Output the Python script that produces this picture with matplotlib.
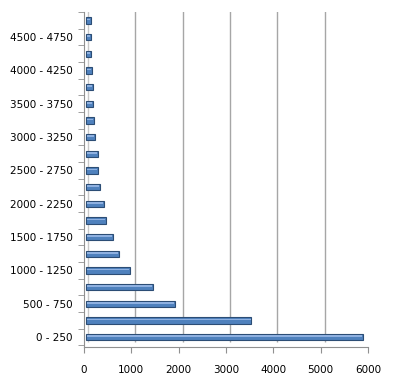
"""Horizontal bar chart of counts per 250-wide bin, Excel-2007 3D style."""
import matplotlib
matplotlib.use("Agg")
import matplotlib.pyplot as plt
import matplotlib.transforms as mtransforms
import numpy as np

BINS = [f"{lo} - {lo + 250}" for lo in range(0, 5000, 250)]
COUNTS = [5850, 3500, 1880, 1420, 930, 700, 570, 430, 380, 300,
          260, 250, 190, 170, 150, 150, 120, 100, 100, 100]
XTICKS = [0, 1000, 2000, 3000, 4000, 5000, 6000]

BLUE, EDGE, LIGHT = "#4F81BD", "#2C4D75", "#8EB0E0"
GRID = "#A6A6A6"

plt.rcParams.update({"font.family": "DejaVu Sans", "font.size": 7.5})

fig = plt.figure(figsize=(3.96, 3.79), dpi=100)
ax = fig.add_axes([0.212, 0.084, 0.717, 0.884])

ypos = np.arange(len(BINS))
ax.set_xlim(0, 6000)
ax.set_ylim(-0.6, len(BINS) - 0.5)

# back wall: gridlines shifted up/right to fake the 3D depth
wall = mtransforms.offset_copy(ax.transData, fig=fig, x=4, y=5, units="dots")
ax.vlines(XTICKS[1:], -0.6, len(BINS) - 0.5, colors=GRID, lw=1.0,
          transform=wall, zorder=1)
ax.vlines([0], -0.6, len(BINS) - 0.5, colors="#C8C8C8", lw=1.0,
          transform=wall, zorder=1)

# bars: body, dark edge and a light highlight stripe
ax.barh(ypos, COUNTS, height=0.38, left=40, color=BLUE, edgecolor=EDGE,
        linewidth=0.8, zorder=3)
ax.barh(ypos + 0.06, [c - 40 for c in COUNTS], height=0.1, left=60,
        color=LIGHT, linewidth=0, zorder=4)

for s in ["top", "right"]:
    ax.spines[s].set_visible(False)
ax.spines["left"].set_color("#909090")
ax.spines["bottom"].set_color("#909090")

ax.set_xticks(XTICKS)
ax.set_xticklabels([str(t) for t in XTICKS])
ax.tick_params(axis="x", length=4, color="#909090", pad=9)

ax.set_yticks(ypos[::2])
ax.set_yticklabels(BINS[::2])
ax.set_yticks(np.arange(-0.5, len(BINS), 1.0), minor=True)
ax.tick_params(axis="y", which="major", length=0, pad=8)
ax.tick_params(axis="y", which="minor", length=4, color="#909090")

fig.savefig("out.png", dpi=100)
